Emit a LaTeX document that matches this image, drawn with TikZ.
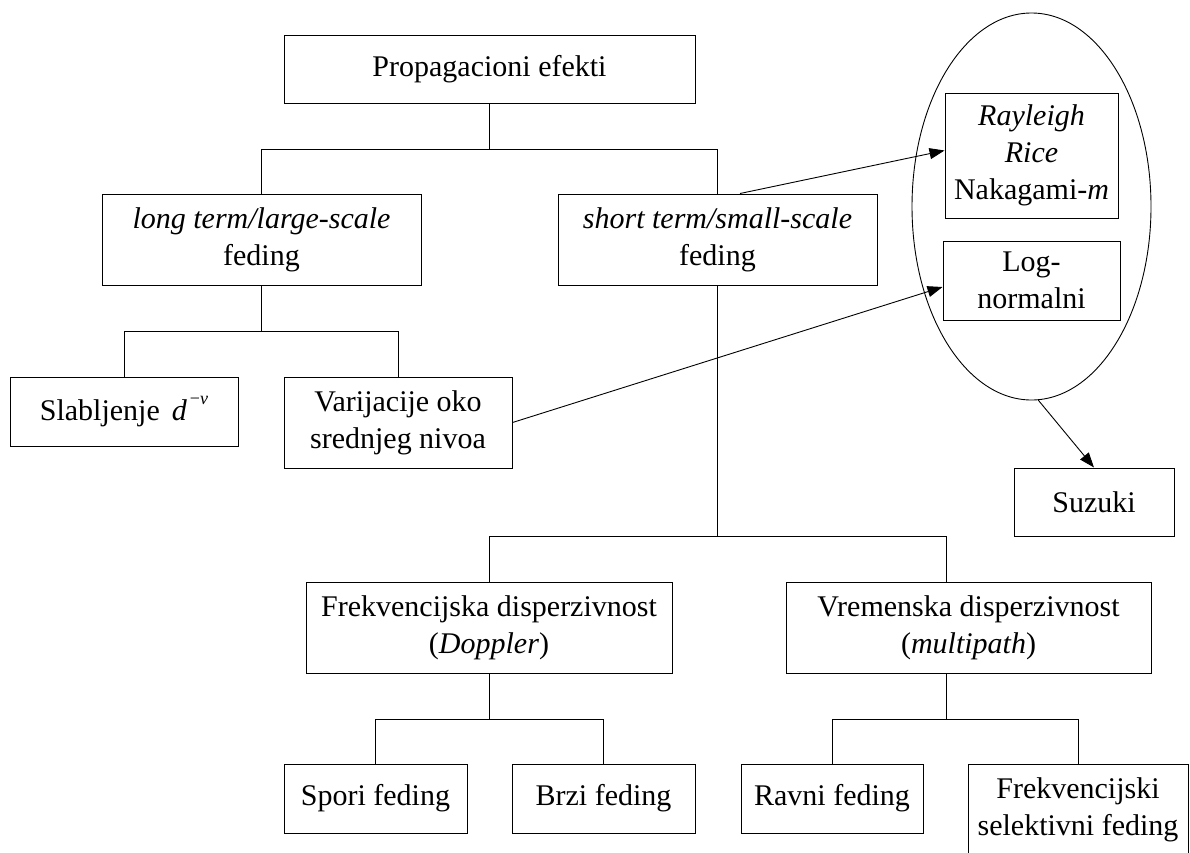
\documentclass[tikz,border=0pt]{standalone}
\usepackage{fontspec}
\setmainfont{Liberation Serif}
\usetikzlibrary{arrows.meta,shapes.geometric}
\begin{document}
\begin{tikzpicture}[x=1pt,y=-1pt,
  box/.style={draw,line width=1pt,align=center,inner sep=0pt,
              font=\fontsize{30}{37}\selectfont},
  sz/.style 2 args={minimum width=#1pt,minimum height=#2pt},
  link/.style={line width=1pt},
  arr/.style={line width=0.9pt,-{Triangle[length=15pt,width=11pt]}}]
\useasboundingbox (0,0) rectangle (1190,852);
\clip (0,0) rectangle (1190,852);

% tree of boxes
\node[box,sz={411}{68}] (prop) at (489.5,69) {Propagacioni efekti};
\node[box,sz={319}{91}] (long) at (261.5,239.5) {\textit{long term/large-scale}\\feding};
\node[box,sz={319}{91}] (short) at (717.5,239.5) {\textit{short term/small-scale}\\feding};
\node[box,sz={228}{69}] (slab) at (124,411.5)
  {Slabljenje\hspace{12pt}\textit{d}\hspace{3pt}\raisebox{16pt}{\fontsize{18}{18}\selectfont −\textit{v}}};
\node[box,sz={228}{91}] (var) at (398,422.5) {Varijacije oko\\srednjeg nivoa};
\node[box,sz={366}{91}] (frek) at (489,627.5) {Frekvencijska disperzivnost\\(\textit{Doppler})};
\node[box,sz={365}{91}] (vrem) at (968.5,627.5) {Vremenska disperzivnost\\(\textit{multipath})};
\node[box,sz={183}{69}] (spori) at (375.5,798.5) {Spori feding};
\node[box,sz={183}{69}] (brzi) at (603.5,798.5) {Brzi feding};
\node[box,sz={182}{69}] (ravni) at (832,798.5) {Ravni feding};
\node[box,sz={220}{91}] (fsel) at (1078,809.5) {Frekvencijski\\selektivni feding};

% distributions grouped in the ellipse
\node[draw,ellipse,line width=0.9pt,inner sep=0pt,sz={239}{387}] (ell) at (1031.5,206.5) {};
\node[box,sz={173}{125}] (ray) at (1031.5,155.5) {\textit{Rayleigh}\\\textit{Rice}\\Nakagami-\textit{m}};
\node[box,sz={177}{79}] (logn) at (1031.5,280.5) {Log-\\normalni};
\node[box,sz={160}{68}] (suz) at (1094,502) {Suzuki};

% orthogonal tree connectors
\draw[link] (prop.south) -- ++(0,46) -| (long.north);
\draw[link] (prop.south) ++(0,46) -| (short.north);
\draw[link] (long.south) -- ++(0,46) -| (slab.north);
\draw[link] (long.south) ++(0,46) -| (var.north);
\draw[link] (short.south) -- ++(0,251) -| (frek.north);
\draw[link] (short.south) ++(0,251) -| ([xshift=-22.5pt]vrem.north);
\draw[link] (frek.south) -- ++(0,46) -| (spori.north);
\draw[link] (frek.south) ++(0,46) -| (brzi.north);
\draw[link] ([xshift=-22.5pt]vrem.south) -- ++(0,46) -| (ravni.north);
\draw[link] ([xshift=-22.5pt]vrem.south) ++(0,46) -| (fsel.north);

% arrows
\draw[arr] ([xshift=22.5pt]short.north) -- ([yshift=5pt]ray.west);
\draw[arr] (var.east) -- ([yshift=-6.5pt]logn.west);
\draw[arr] (ell.-88) -- (suz.north);
\end{tikzpicture}
\end{document}
